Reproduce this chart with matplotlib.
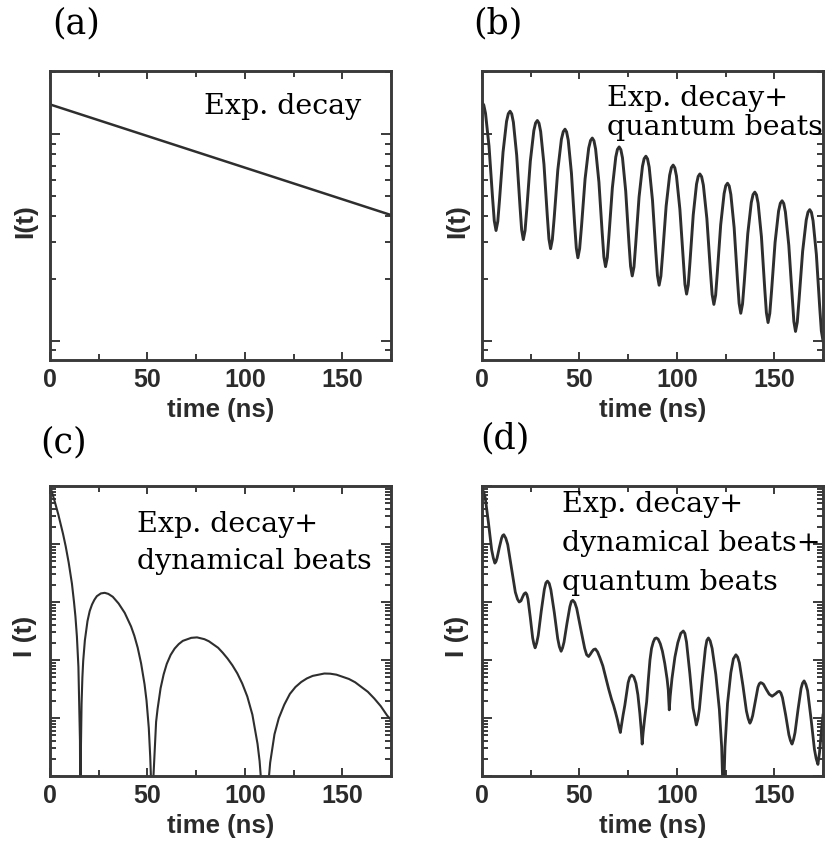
import numpy as np
import matplotlib.pyplot as plt
from matplotlib import font_manager
from matplotlib.ticker import MultipleLocator, LogLocator, NullFormatter

# values: time in ns, intensity given as log10(I) in arbitrary units

# (a) pure exponential decay
a_time = [0.0, 175.0]
a_log = [1.145, 0.609]

# (b) exponential decay + quantum beats
b_time = [0.0, 0.9, 1.8, 3.6, 5.4, 6.3, 7.2, 8.1, 9.0, 10.8, 12.6, 13.5, 14.4,
          15.25, 16.1, 17.8, 19.5, 20.35, 21.2, 22.1, 23.0, 24.8, 26.6, 27.5, 28.4,
          29.25, 30.1, 31.8, 33.5, 34.35, 35.2, 36.1, 37.05, 38.9, 40.75, 41.7, 42.6,
          43.4, 44.25, 45.9, 47.55, 48.4, 49.2, 50.1, 51.05, 52.9, 54.75, 55.7, 56.6,
          57.45, 58.3, 60.0, 61.7, 62.55, 63.4, 64.3, 65.15, 66.9, 68.65, 69.5, 70.4,
          71.25, 72.1, 73.75, 75.4, 76.25, 77.1, 78.0, 78.85, 80.6, 82.35, 83.2, 84.1,
          84.95, 85.8, 87.5, 89.2, 90.05, 90.9, 91.8, 92.7, 94.5, 96.3, 97.2, 98.1,
          98.95, 99.8, 101.55, 103.3, 104.15, 105.0, 105.85, 106.7, 108.4, 110.1, 110.95, 111.8,
          112.7, 113.6, 115.4, 117.2, 118.1, 119.0, 119.9, 120.75, 122.5, 124.25, 125.1, 126.0,
          126.85, 127.7, 129.4, 131.1, 131.95, 132.8, 133.7, 134.6, 136.4, 138.2, 139.1, 140.0,
          140.85, 141.7, 143.4, 145.1, 145.95, 146.8, 147.7, 148.6, 150.4, 152.2, 153.1, 154.0,
          154.85, 155.7, 157.45, 159.2, 160.05, 160.9, 161.8, 162.7, 164.55, 166.4, 167.3, 168.2,
          169.05, 169.9, 171.6, 173.3, 174.15, 175.0]
b_log = [1.155, 1.142, 1.102, 0.943, 0.695, 0.581, 0.534, 0.578, 0.684, 0.914, 1.063, 1.100, 1.112,
         1.099, 1.059, 0.899, 0.651, 0.537, 0.490, 0.534, 0.639, 0.870, 1.018, 1.055, 1.067,
         1.054, 1.014, 0.855, 0.607, 0.493, 0.446, 0.490, 0.596, 0.827, 0.976, 1.013, 1.025,
         1.012, 0.972, 0.812, 0.563, 0.449, 0.402, 0.446, 0.552, 0.784, 0.933, 0.970, 0.982,
         0.969, 0.929, 0.769, 0.520, 0.406, 0.359, 0.403, 0.509, 0.741, 0.890, 0.927, 0.939,
         0.926, 0.886, 0.725, 0.476, 0.361, 0.314, 0.358, 0.464, 0.696, 0.845, 0.882, 0.894,
         0.881, 0.841, 0.680, 0.431, 0.316, 0.269, 0.313, 0.420, 0.652, 0.802, 0.839, 0.851,
         0.838, 0.798, 0.637, 0.388, 0.273, 0.226, 0.270, 0.377, 0.609, 0.759, 0.796, 0.808,
         0.795, 0.754, 0.592, 0.340, 0.224, 0.176, 0.221, 0.328, 0.562, 0.713, 0.751, 0.763,
         0.750, 0.709, 0.548, 0.296, 0.181, 0.133, 0.178, 0.285, 0.519, 0.670, 0.708, 0.720,
         0.707, 0.666, 0.504, 0.252, 0.136, 0.088, 0.133, 0.241, 0.476, 0.628, 0.666, 0.678,
         0.665, 0.624, 0.462, 0.209, 0.093, 0.045, 0.090, 0.198, 0.433, 0.585, 0.623, 0.635,
         0.622, 0.581, 0.418, 0.164, 0.048, 0.000]

# (c) exponential decay + dynamical beats, (time, log10 I); dips go below the axis
c_points = [(0.0, 0.0), (0.266, -0.028), (1.065, -0.114), (2.396, -0.264), (4.26, -0.491),
            (6.656, -0.821), (8.05, -1.039), (9.585, -1.320), (11.25, -1.682), (12.31, -1.998),
            (13.05, -2.250), (13.8, -2.592), (14.58, -3.117), (15.38, -4.39), (15.64, -6.5),
            (15.87, -4.513), (16.2, -3.754), (16.62, -3.302), (17.04, -3.015), (17.9, -2.66),
            (19.24, -2.329), (20.38, -2.156), (21.57, -2.043), (22.78, -1.962), (24.03, -1.900),
            (26.1, -1.852), (28.09, -1.842), (29.92, -1.860), (32.22, -1.910), (35.21, -2.026),
            (38.34, -2.187), (41.6, -2.422), (43.28, -2.582), (45.0, -2.787), (46.74, -3.057),
            (48.52, -3.418), (49.54, -3.701), (50.7, -4.172), (51.44, -4.672), (51.74, -4.96),
            (52.42, -6.5), (53.08, -5.015), (54.45, -4.067), (55.21, -3.844), (56.75, -3.487),
            (58.32, -3.248), (59.91, -3.068), (61.92, -2.912), (63.97, -2.803), (66.05, -2.726),
            (68.16, -2.670), (72.49, -2.618), (75.45, -2.610), (79.23, -2.641), (81.54, -2.677),
            (86.27, -2.789), (88.68, -2.876), (91.12, -2.975), (93.6, -3.091), (96.12, -3.230),
            (98.66, -3.406), (101.24, -3.628), (103.86, -3.942), (106.5, -4.445), (107.57, -4.744),
            (108.64, -5.216), (110.22, -6.5), (111.89, -5.195), (112.98, -4.772), (115.2, -4.281),
            (117.4, -4.005), (120.23, -3.770), (123.1, -3.585), (125.96, -3.466), (128.9, -3.380),
            (131.8, -3.318), (134.8, -3.274), (140.8, -3.233), (143.8, -3.236), (147.0, -3.253),
            (153.4, -3.327), (156.6, -3.384), (159.8, -3.465), (163.1, -3.548), (166.4, -3.663),
            (169.75, -3.796), (173.1, -3.961), (175.0, -4.03)]

# (d) exponential decay + dynamical beats + quantum beats, (time, log10 I)
d_points = [(0.0, -0.05), (0.8, -0.10), (1.65, -0.20), (3.3, -0.63), (4.95, -1.10), (5.8, -1.24),
            (6.6, -1.33), (7.2, -1.30), (7.75, -1.24), (8.9, -1.06), (10.05, -0.90), (10.6, -0.855),
            (11.2, -0.84), (12.2, -0.90), (13.2, -1.01), (15.15, -1.42), (17.1, -1.83), (18.2, -1.95),
            (19.1, -2.00), (20.0, -1.98), (20.75, -1.92), (21.6, -1.86), (22.4, -1.84), (23.0, -1.87),
            (23.6, -1.95), (24.8, -2.27), (26.0, -2.62), (26.6, -2.72), (27.25, -2.79), (28.05, -2.71),
            (28.85, -2.58), (30.4, -2.16), (32.0, -1.78), (32.8, -1.67), (33.6, -1.64), (34.5, -1.68),
            (35.35, -1.79), (37.1, -2.18), (38.85, -2.63), (39.7, -2.77), (40.6, -2.85), (41.35, -2.79),
            (42.1, -2.69), (43.6, -2.37), (45.1, -2.08), (45.85, -1.99), (46.6, -1.97), (47.6, -2.01),
            (48.6, -2.11), (50.65, -2.46), (52.7, -2.80), (53.7, -2.91), (54.7, -2.94), (55.6, -2.90),
            (56.45, -2.855), (57.3, -2.82), (58.2, -2.81), (59.3, -2.86), (60.5, -2.96), (62.0, -3.10),
            (63.5, -3.30), (65.0, -3.50), (66.5, -3.68), (67.5, -3.78), (68.5, -3.90), (69.5, -4.03),
            (70.4, -4.17), (71.0, -4.25), (71.6, -4.12), (72.4, -3.95), (73.3, -3.78), (74.2, -3.57),
            (75.0, -3.39), (75.8, -3.30), (76.8, -3.26), (77.9, -3.29), (79.0, -3.40), (80.0, -3.60),
            (81.0, -3.92), (81.7, -4.20), (82.2, -4.45), (82.7, -4.25), (83.5, -4.00), (84.5, -3.72),
            (85.4, -3.32), (86.2, -3.00), (87.0, -2.80), (87.9, -2.69), (88.7, -2.63), (89.5, -2.62),
            (90.4, -2.64), (91.5, -2.72), (92.6, -2.85), (93.8, -3.06), (95.0, -3.33), (95.6, -3.52),
            (96.1, -3.86), (96.6, -3.62), (97.5, -3.32), (99.0, -2.95), (100.5, -2.70), (102.0, -2.54),
            (103.3, -2.50), (104.1, -2.54), (104.95, -2.69), (106.65, -3.23), (108.3, -3.83),
            (109.15, -3.97), (110.0, -4.12), (110.8, -4.02), (111.55, -3.85), (113.1, -3.30),
            (114.65, -2.80), (115.4, -2.66), (116.2, -2.62), (117.1, -2.67), (118.1, -2.80),
            (120.0, -3.25), (121.8, -3.85), (123.0, -4.5), (123.6, -5.2), (123.85, -6.5), (124.1, -5.2),
            (124.7, -4.5), (126.0, -3.75), (127.7, -3.22), (129.0, -2.98), (130.3, -2.91), (131.2, -2.95),
            (132.1, -3.05), (133.9, -3.44), (135.7, -3.88), (136.6, -4.01), (137.5, -4.09), (138.2, -4.04),
            (138.9, -3.96), (140.25, -3.71), (141.6, -3.47), (142.3, -3.41), (143.0, -3.39), (143.75, -3.40),
            (144.5, -3.42), (145.95, -3.51), (147.4, -3.59), (148.9, -3.625), (150.75, -3.58), (151.7, -3.55),
            (152.6, -3.54), (153.4, -3.57), (154.2, -3.65), (155.85, -3.95), (157.5, -4.29), (158.3, -4.39),
            (159.1, -4.45), (159.9, -4.37), (160.65, -4.25), (162.2, -3.85), (163.75, -3.49), (164.5, -3.40),
            (165.3, -3.36), (166.2, -3.42), (167.1, -3.53), (168.85, -4.01), (170.6, -4.54), (171.5, -4.70),
            (172.4, -4.80), (173.2, -4.60), (174.1, -4.25), (175.0, -3.95)]

c_time, c_log = zip(*c_points)
d_time, d_log = zip(*d_points)

panel_tags = ['(a)', '(b)', '(c)', '(d)']
panel_notes = [['Exp. decay'],
               ['Exp. decay+', 'quantum beats'],
               ['Exp. decay+', 'dynamical beats'],
               ['Exp. decay+', 'dynamical beats+', 'quantum beats']]
ylabels = ['I(t)', 'I(t)', 'I (t)', 'I (t)']
xticks = [0, 50, 100, 150]

W, H = 825, 849
names = {f.name for f in font_manager.fontManager.ttflist}
tick_font = 'Liberation Sans Narrow' if 'Liberation Sans Narrow' in names else 'Liberation Sans'

fig = plt.figure(figsize=(W / 100, H / 100), dpi=100)
fig.patch.set_facecolor('white')

def px_axes(left, top, right, bottom):
    return fig.add_axes([left / W, 1 - bottom / H, (right - left) / W, (bottom - top) / H])

axes = [px_axes(50, 71, 391, 360), px_axes(482, 71, 823, 360),
        px_axes(50, 486, 391, 776), px_axes(482, 486, 823, 776)]
ylims = [(10 ** -0.0935, 10 ** 1.307), (10 ** -0.0935, 10 ** 1.307), (1e-5, 1), (1e-5, 1)]
series = [(a_time, a_log, 1.8), (b_time, b_log, 2.1), (c_time, c_log, 1.5), (d_time, d_log, 2.0)]
dark = '#2e2e2e'

for ax, (t, lg, lw), ylim, ylab in zip(axes, series, ylims, ylabels):
    ax.plot(t, 10 ** np.array(lg), color=dark, lw=lw)
    ax.set_yscale('log')
    ax.set_xlim(0, 175)
    ax.set_ylim(ylim)
    ax.xaxis.set_major_locator(MultipleLocator(50))
    ax.xaxis.set_minor_locator(MultipleLocator(25))
    ax.yaxis.set_major_locator(LogLocator(base=10, numticks=12))
    ax.yaxis.set_minor_locator(LogLocator(base=10, subs=np.arange(2, 10), numticks=12))
    ax.yaxis.set_major_formatter(NullFormatter())
    ax.yaxis.set_minor_formatter(NullFormatter())
    ax.set_xticks(xticks)
    ax.set_xticklabels([str(v) for v in xticks], fontfamily=tick_font, fontweight='bold',
                       fontsize=18, color='#2b2b2b')
    ax.tick_params(which='both', direction='in', top=True, right=True, color='#3a3a3a', width=1.4)
    ax.tick_params(axis='x', which='major', length=6, pad=6)
    ax.tick_params(axis='x', which='minor', length=4)
    ax.tick_params(axis='y', which='major', length=7.5)
    ax.tick_params(axis='y', which='minor', length=4)
    for sp in ax.spines.values():
        sp.set_linewidth(2.1)
        sp.set_color('#3a3a3a')
    ax.set_xlabel('time (ns)', fontfamily='Liberation Sans', fontweight='bold', fontsize=18.5,
                  color='#2b2b2b')
    ax.xaxis.label.set_va('baseline')
    ax.xaxis.set_label_coords(0.5, -0.196)
    ax.set_ylabel(ylab, fontfamily='Liberation Sans', fontweight='bold', fontsize=19,
                  color='#2b2b2b')
    ax.yaxis.label.set_va('center')
    ax.yaxis.set_label_coords(-0.072, 0.48)

def ftext(x, y, s, **kw):
    fig.text(x / W, 1 - y / H, s, **kw)

# panel tags
for (x, y), s in zip([(76, 23), (498, 23), (64, 442), (505, 438)], panel_tags):
    ftext(x, y, s, fontfamily='DejaVu Serif', fontsize=25, ha='center', va='center')

# annotations, one line each (left edge, baseline)
note_pos = [(204, [114]), (607, [106, 135]), (137, [532, 569]), (562, [512, 551, 590])]
for (x, bases), lines in zip(note_pos, panel_notes):
    for yb, s in zip(bases, lines):
        ftext(x, yb, s, fontfamily='DejaVu Serif', fontsize=20.5, ha='left', va='baseline')

fig.savefig('out.png', dpi=100)
